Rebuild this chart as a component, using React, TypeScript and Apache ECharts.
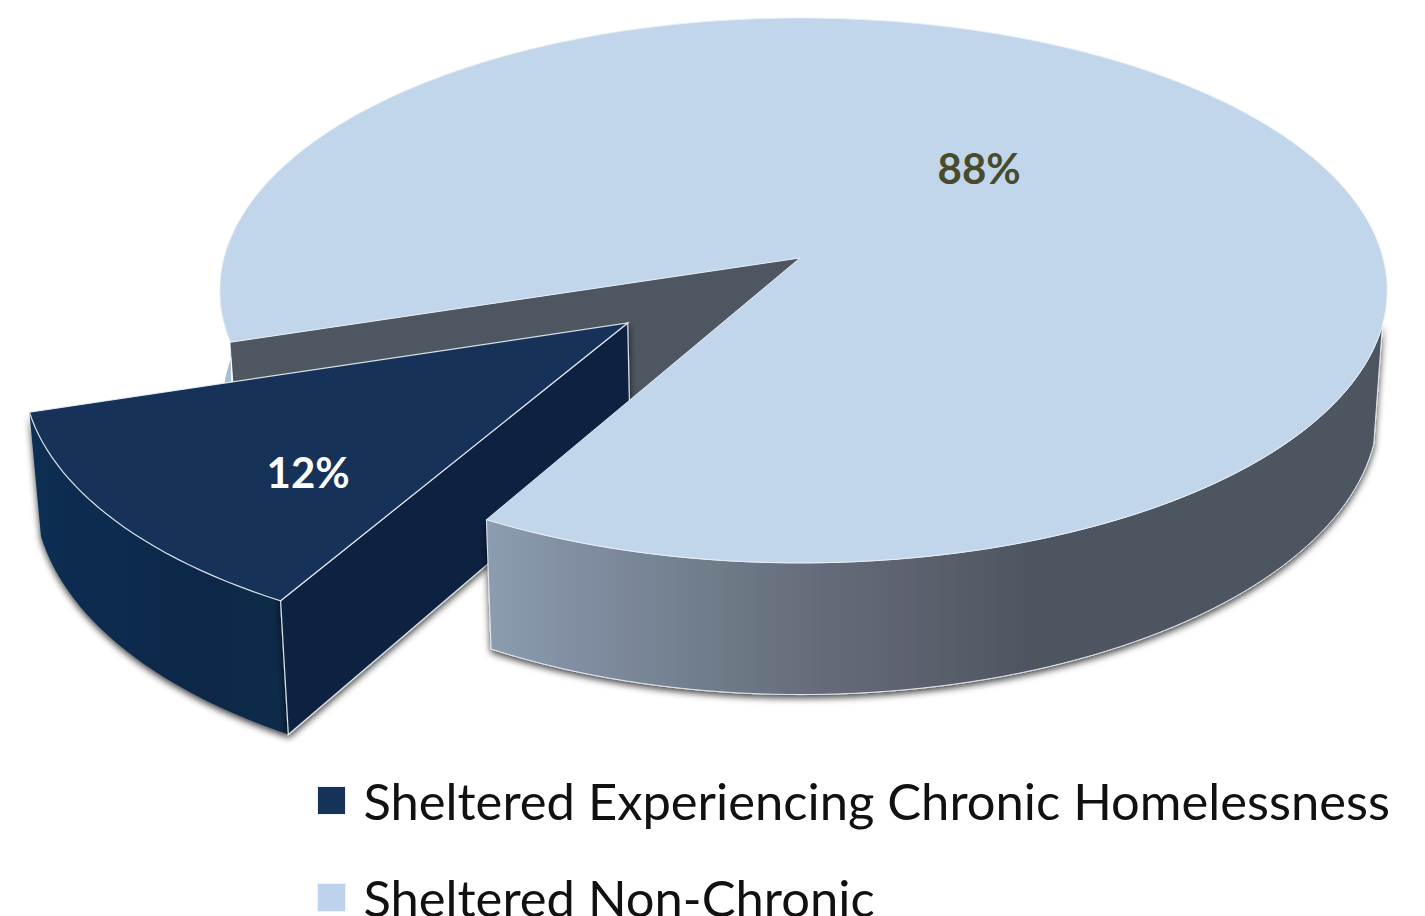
import React, { useEffect, useRef } from "react";
import * as echarts from "echarts";

const CATEGORIES = ["Sheltered Experiencing Chronic Homelessness", "Sheltered Non-Chronic"];
const VALUES = [12, 88];
const TOP_COLORS = ["#163259", "#c1d6eb"];
const LEGEND_COLORS = ["#153358", "#bdd2ec"];
const LABEL_COLORS = ["#ffffff", "#4a4a2c"];
const EXPLODE = [0.372, 0];
const LABEL_UV = [[-0.485, 0.493], [0.32, -0.349]];
const LEFT_SCALE = [581, 576];

const START_ANGLE = 119.2;
const X0 = 800, Y0 = 258, A_RIGHT = 583, B = 268.6, K = 0.119, C = 116, SHRINK = 0.015;

const rad = (d: number) => (d * Math.PI) / 180;

function project(u: number, v: number, z: number, aLeft: number, shrink = SHRINK): [number, number] {
  const w = 1 - K * v;
  const a = u < 0 ? aLeft : A_RIGHT;
  return [X0 + (a * u * (1 - shrink * z)) / w, Y0 + (B * v + C * z) / w];
}

function arc(a0: number, a1: number, ou: number, ov: number, z: number, aLeft: number, shrink = SHRINK) {
  const pts: [number, number][] = [];
  const n = Math.max(2, Math.ceil(Math.abs(a1 - a0) / 1.5));
  for (let i = 0; i <= n; i++) {
    const a = rad(a0 + ((a1 - a0) * i) / n);
    pts.push(project(ou + Math.cos(a), ov + Math.sin(a), z, aLeft, shrink));
  }
  return pts;
}

const SHADOW = {
  shadowBlur: 7,
  shadowColor: "rgba(0,0,0,0.75)",
  shadowOffsetX: 0,
  shadowOffsetY: 3,
};

const EDGE = "rgba(235,240,246,0.9)";

function renderSlice(index: number) {
  return (_params: any, api: any) => {
    const value = api.value(0);
    const total = VALUES.reduce((s, x) => s + x, 0);
    const before = VALUES.slice(0, index).reduce((s, x) => s + x, 0);
    const a0 = START_ANGLE + (before / total) * 360;
    const a1 = a0 + (value / total) * 360;
    const mid = rad((a0 + a1) / 2);
    const ou = EXPLODE[index] * Math.cos(mid);
    const ov = EXPLODE[index] * Math.sin(mid);
    const aL = LEFT_SCALE[index];
    const apexTop = project(ou, ov, 0, aL);
    const apexBot = project(ou, ov, 1, aL);
    const children: any[] = [];
    const topArc = arc(a0, a1, ou, ov, 0, aL);

    if (index === 0) {
      const wTop = arc(a0, a1, ou, ov, 0, aL);
      const wBot = arc(a0, a1, ou, ov, 1, aL);
      children.push({
        type: "polygon",
        z2: 3,
        shape: { points: [...wTop, ...wBot.reverse()] },
        style: {
          fill: {
            type: "linear",
            global: true,
            x: 32,
            y: 0,
            x2: 288,
            y2: 0,
            colorStops: [
              { offset: 0, color: "#0e2e52" },
              { offset: 0.35, color: "#10294f" },
              { offset: 0.7, color: "#102848" },
              { offset: 1, color: "#112a49" },
            ],
          },
          ...SHADOW,
        },
      });
      const p0 = project(ou + Math.cos(rad(a0)), ov + Math.sin(rad(a0)), 0, aL);
      const p1 = project(ou + Math.cos(rad(a0)), ov + Math.sin(rad(a0)), 1, aL);
      children.push({
        type: "polygon",
        z2: 4,
        shape: { points: [apexTop, p0, p1, apexBot] },
        style: { fill: "#11243f", stroke: EDGE, lineWidth: 1.2, ...SHADOW },
      });
      children.push({
        type: "polygon",
        z2: 5,
        shape: { points: [apexTop, ...topArc] },
        style: { fill: TOP_COLORS[index], stroke: EDGE, lineWidth: 1.2 },
      });
    } else {
      const stripTop = arc(a0, a0 + 22, 0, 0, 0, aL);
      const stripBot = arc(a0, a0 + 22, 0, 0, 1, aL, 0.004);
      children.push({
        type: "polygon",
        z2: 1,
        shape: { points: [...stripTop, ...stripBot.reverse()] },
        style: { fill: "#aabed1" },
      });
      const p0 = project(Math.cos(rad(a0)), Math.sin(rad(a0)), 0, aL);
      const p1 = project(Math.cos(rad(a0)), Math.sin(rad(a0)), 1, aL);
      children.push({
        type: "polygon",
        z2: 2,
        shape: { points: [apexTop, p0, p1, apexBot] },
        style: { fill: "#4d5661" },
      });
      const wTop = arc(374, a1, 0, 0, 0, aL);
      const wBot = arc(374, a1, 0, 0, 1, aL);
      children.push({
        type: "polygon",
        z2: 6,
        shape: { points: [...wTop, ...wBot.reverse()] },
        style: {
          fill: {
            type: "linear",
            global: true,
            x: 486,
            y: 0,
            x2: 1030,
            y2: 0,
            colorStops: [
              { offset: 0, color: "#8c9db0" },
              { offset: 0.2, color: "#7f8b9f" },
              { offset: 0.4, color: "#707e8b" },
              { offset: 0.6, color: "#666c7b" },
              { offset: 0.8, color: "#5c616e" },
              { offset: 1, color: "#4d5661" },
            ],
          },
          stroke: EDGE,
          lineWidth: 1,
          ...SHADOW,
        },
      });
      children.push({
        type: "polygon",
        z2: 7,
        shape: { points: [apexTop, ...topArc] },
        style: { fill: TOP_COLORS[index], stroke: EDGE, lineWidth: 1 },
      });
    }

    const [lu, lv] = LABEL_UV[index];
    const lp = project(ou + lu, ov + lv, 0, aL);
    children.push({
      type: "text",
      z2: 9,
      x: lp[0],
      y: lp[1],
      style: {
        text: `${value}%`,
        fontFamily: "Lato",
        fontWeight: "bold",
        fontSize: 42,
        fill: LABEL_COLORS[index],
        align: "center",
        verticalAlign: "middle",
      },
    });
    return { type: "group", children };
  };
}

export default function App() {
  const ref = useRef<HTMLDivElement>(null);
  useEffect(() => {
    document.body.style.margin = "0";
    document.body.style.overflow = "hidden";
    const chart = echarts.init(ref.current!, undefined, { renderer: "svg" });
    chart.setOption({
      animation: false,
      backgroundColor: "#ffffff",
      legend: {
        show: true,
        orient: "vertical",
        left: 312,
        top: 770,
        height: 300,
        itemWidth: 28,
        itemHeight: 28,
        itemGap: 46,
        icon: "rect",
        selectedMode: false,
        itemStyle: { borderColor: "#eef0f3", borderWidth: 1 },
        textStyle: {
          fontFamily: "Lato",
          fontSize: 50.7,
          color: "#111111",
          lineHeight: 40,
          padding: [0, 0, 0, 13],
        },
        data: CATEGORIES,
      },
      series: CATEGORIES.map((name, i) => ({
        type: "custom",
        name,
        coordinateSystem: "none",
        silent: true,
        itemStyle: { color: LEGEND_COLORS[i] },
        renderItem: renderSlice(i),
        data: [VALUES[i]],
      })),
    });
    return () => chart.dispose();
  }, []);
  return <div ref={ref} style={{ position: "absolute", left: 0, top: 0, width: 1425, height: 916 }} />;
}
